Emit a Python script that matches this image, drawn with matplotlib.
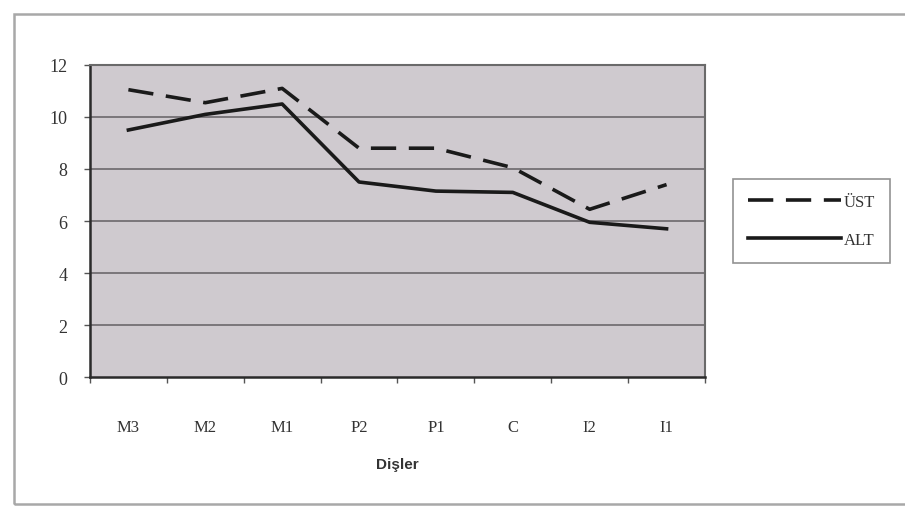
import matplotlib
matplotlib.use("Agg")
import matplotlib.pyplot as plt
from matplotlib.patches import Rectangle
import numpy as np

# teeth along the arch and mean values for upper / lower jaw
teeth = ['M3', 'M2', 'M1', 'P2', 'P1', 'C', 'I2', 'I1']
ust = [11.05, 10.55, 11.1, 8.8, 8.8, 8.05, 6.45, 7.4]
alt = [9.5, 10.1, 10.5, 7.5, 7.15, 7.1, 5.95, 5.7]
y_ticks = [0, 2, 4, 6, 8, 10, 12]

plt.rcParams['font.family'] = ['Liberation Serif', 'DejaVu Serif']

fig = plt.figure(figsize=(9.05, 5.10), dpi=100)
fig.patch.set_facecolor('white')

# outer chart frame (runs off the right edge)
fig.patches.append(Rectangle((0.015, 0.01), 1.0, 0.96, transform=fig.transFigure,
                             fill=False, edgecolor='#a8a8a8', linewidth=1.8))

ax = fig.add_axes([0.0994, 0.2588, 0.6796, 0.6118])
ax.set_facecolor('#cfcacf')

x = np.arange(len(teeth))
ax.plot(x, ust, color='#1a1a1a', linewidth=2.6, dashes=(7, 3.5), label='ÜST')
ax.plot(x, alt, color='#1a1a1a', linewidth=2.6, label='ALT')

ax.set_xlim(-0.5, len(teeth) - 0.5)
ax.set_ylim(0, 12)
ax.set_yticks(y_ticks)
ax.set_yticklabels([str(v) for v in y_ticks], fontsize=13, color='#333333')
ax.set_xticks(x)
ax.set_xticklabels(teeth, fontsize=12, color='#333333')
ax.tick_params(axis='x', length=0, pad=30)
ax.tick_params(axis='y', length=4, width=1, color='#555555', pad=12)
# tick marks between categories
ax.set_xticks(np.arange(-0.5, len(teeth)), minor=True)
ax.tick_params(axis='x', which='minor', length=4, width=1, color='#555555')

for v in y_ticks[1:-1]:
    ax.axhline(v, color='#7a767a', linewidth=1.4, zorder=1)

for side in ['top', 'right']:
    ax.spines[side].set_color('#6a6a6a')
    ax.spines[side].set_linewidth(1.5)
for side in ['left', 'bottom']:
    ax.spines[side].set_color('#2a2a2a')
    ax.spines[side].set_linewidth(1.8)

ax.set_xlabel('Dişler', fontsize=11, fontweight='bold', color='#333333', labelpad=16,
              family=['Liberation Sans', 'DejaVu Sans'])

leg = ax.legend(loc='center left', bbox_to_anchor=(1.045, 0.5), frameon=True,
                fancybox=False, fontsize=12, handlelength=5.6, handletextpad=0.15,
                borderpad=0.9, labelspacing=1.3, borderaxespad=0)
leg.get_frame().set_edgecolor('#777777')
leg.get_frame().set_linewidth(1.2)
for t in leg.get_texts():
    t.set_color('#333333')

fig.savefig('out.png', dpi=100)
